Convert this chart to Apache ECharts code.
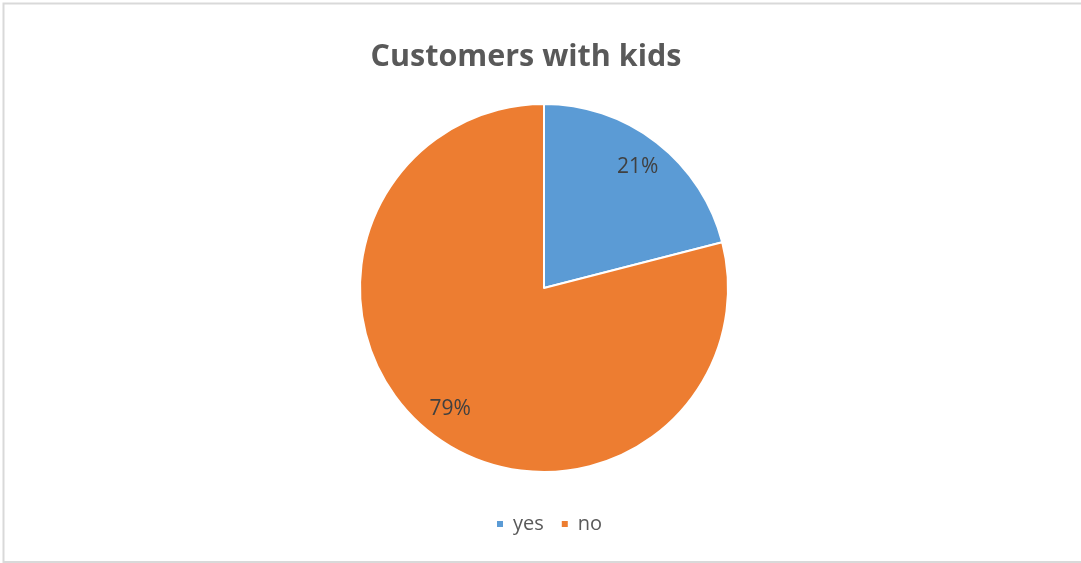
<!DOCTYPE html>
<html>
<head>
<meta charset="utf-8">
<style>
  html, body { margin: 0; padding: 0; background: #ffffff; }
  #chart { width: 1081px; height: 563px; }
</style>
<script src="https://cdn.jsdelivr.net/npm/echarts@6/dist/echarts.min.js"></script>
</head>
<body>
<div id="chart"></div>
<script>
// Share of customers who have kids
const categories = ['yes', 'no'];
const shares = [21, 79];
const sliceColors = ['#5b9bd5', '#ed7d31'];

const chart = echarts.init(document.getElementById('chart'));

const sliceData = categories.map((name, i) => ({
  name: name,
  value: shares[i],
  itemStyle: { color: sliceColors[i] }
}));

const center = [544, 288];
const radius = 184;

chart.setOption({
  backgroundColor: '#ffffff',
  animation: false,
  title: {
    text: 'Customers with kids',
    left: 521,
    top: 37,
    textAlign: 'center',
    textStyle: {
      fontFamily: 'Open Sans',
      fontWeight: 'bold',
      fontSize: 30.5,
      color: '#595959'
    }
  },
  legend: {
    data: categories,
    bottom: 24,
    left: 490,
    icon: 'rect',
    itemWidth: 8,
    itemHeight: 8,
    itemGap: 16,
    textStyle: {
      fontFamily: 'Open Sans',
      fontSize: 20,
      color: '#595959',
      padding: [0, 0, 0, 4]
    }
  },
  graphic: [{
    type: 'rect',
    shape: { x: 3.5, y: 3.5, width: 1100, height: 558.5 },
    style: { fill: 'none', stroke: '#d9d9d9', lineWidth: 2 },
    silent: true
  }],
  series: [
    {
      type: 'pie',
      center: center,
      radius: [0, radius],
      startAngle: 90,
      clockwise: true,
      label: { show: false },
      labelLine: { show: false },
      itemStyle: { borderColor: '#ffffff', borderWidth: 2 },
      emphasis: { disabled: true },
      data: sliceData
    },
    {
      // transparent ring that carries the percentage labels
      type: 'pie',
      center: center,
      radius: [116, radius],
      startAngle: 90,
      clockwise: true,
      silent: true,
      itemStyle: { color: 'rgba(0,0,0,0)', borderWidth: 0 },
      label: {
        show: true,
        position: 'inside',
        formatter: p => p.value + '%',
        fontFamily: 'Open Sans',
        fontSize: 21,
        color: '#404040'
      },
      labelLine: { show: false },
      emphasis: { disabled: true },
      data: categories.map((name, i) => ({ name: name, value: shares[i] }))
    }
  ]
});
</script>
</body>
</html>
